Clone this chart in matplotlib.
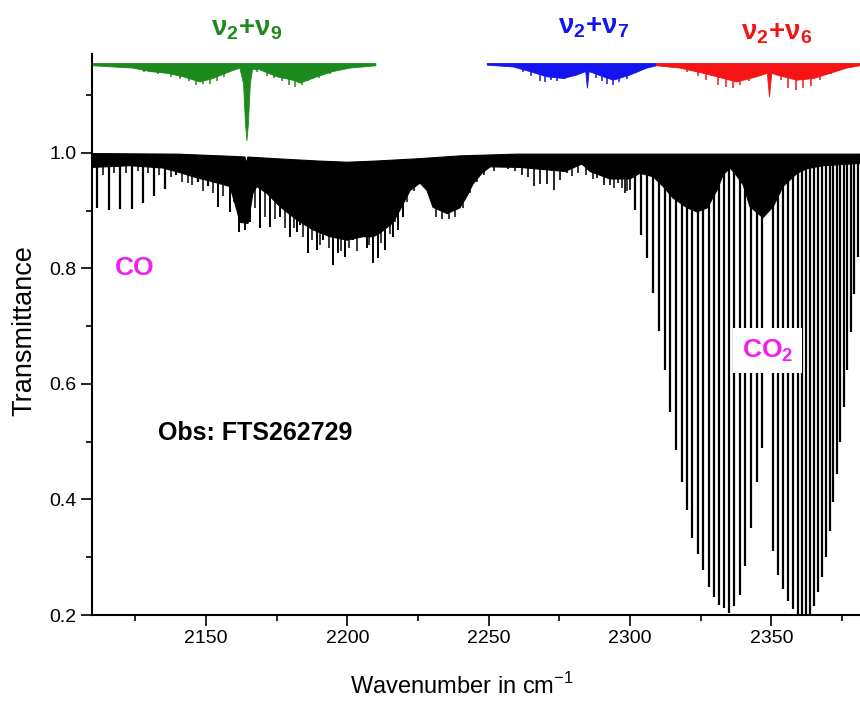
import matplotlib

matplotlib.use("Agg")
import matplotlib.pyplot as plt
import numpy as np

plt.rcParams["font.family"] = ["Liberation Sans", "DejaVu Sans"]

# ---- observed spectrum (black), values read off the figure ----
# upper edge of the dense black band
top_w = [2109.6, 2140.0, 2160.0, 2163.8, 2164.3, 2164.8, 2175.0, 2190.0, 2200.0, 2210.0,
         2225.0, 2240.0, 2260.0, 2381.3]
top_t = [0.999, 0.998, 0.994, 0.993, 0.982, 0.993, 0.990, 0.986, 0.984, 0.986,
         0.990, 0.995, 0.998, 0.998]

# lower edge of the dense (unresolved) black band
env_w = [2109.6, 2123.1, 2134.8, 2140.8, 2146.8, 2152.5, 2158.5, 2161.0, 2162.0, 2164.9,
         2166.6, 2168.0, 2171.6, 2176.2, 2182.2, 2187.8, 2193.9, 2199.9, 2205.5, 2209.1,
         2211.5, 2216.1, 2218.6, 2222.2, 2225.7, 2228.2, 2230.3, 2235.3, 2239.8, 2242.3,
         2244.4, 2247.6, 2250.5, 2261.1, 2277.0, 2283.0, 2285.8, 2292.9, 2300.0, 2303.5,
         2308.1, 2311.7, 2315.2, 2320.2, 2323.7, 2327.3, 2330.8, 2332.9, 2335.4, 2337.8,
         2340.0, 2342.4, 2347.0, 2350.6, 2354.1, 2359.1, 2362.6, 2368.3, 2381.3]
env_t = [0.975, 0.978, 0.974, 0.966, 0.957, 0.950, 0.942, 0.900, 0.880, 0.878,
         0.930, 0.942, 0.930, 0.907, 0.884, 0.867, 0.855, 0.849, 0.855, 0.855,
         0.861, 0.879, 0.901, 0.935, 0.948, 0.935, 0.906, 0.895, 0.905, 0.925,
         0.946, 0.965, 0.976, 0.975, 0.968, 0.981, 0.968, 0.955, 0.955, 0.965,
         0.959, 0.942, 0.922, 0.905, 0.898, 0.905, 0.936, 0.962, 0.974, 0.960,
         0.945, 0.907, 0.888, 0.907, 0.942, 0.965, 0.973, 0.978, 0.982]

# CO fundamental lines
co_w = [2111.5, 2115.6, 2119.7, 2123.8, 2127.7, 2131.6, 2135.6, 2139.4, 2147.2, 2150.6]
co_t = [0.904, 0.901, 0.903, 0.903, 0.913, 0.926, 0.937, 0.962, 0.950, 0.942]

# resolved lines on top of the 2150-2220 absorption
dense_w = [2154.35, 2158.49, 2161.78, 2163.80, 2165.56, 2169.10, 2172.64, 2176.18, 2179.71,
           2182.08, 2183.25, 2186.19, 2189.16, 2191.49, 2195.03, 2196.80, 2199.17, 2202.10,
           2205.08, 2206.84, 2209.18, 2210.95, 2213.32, 2216.26, 2218.03, 2219.79]
dense_t = [0.907, 0.898, 0.864, 0.867, 0.881, 0.870, 0.872, 0.890, 0.855,
           0.864, 0.875, 0.826, 0.832, 0.849, 0.806, 0.826, 0.820, 0.849,
           0.855, 0.835, 0.809, 0.818, 0.832, 0.855, 0.867, 0.890]

# short lines fringing the lower edge of the black band
fine_w = [2113.5, 2117.6, 2121.7, 2125.8, 2129.6, 2133.5, 2137.5, 2141.5, 2143.5, 2145.0,
          2149.0, 2152.5, 2156.0, 2160.0, 2167.5, 2171.0, 2174.5, 2178.0, 2181.0, 2184.5,
          2187.5, 2190.5, 2193.5, 2197.8, 2200.5, 2203.5, 2207.8, 2212.0, 2215.0, 2217.0,
          2221.0, 2223.5, 2229.5, 2231.5, 2233.5, 2236.0, 2238.0, 2241.0, 2243.5, 2246.0,
          2248.5, 2252.0, 2279.5, 2281.5, 2284.5, 2286.8, 2294.3, 2297.0, 2299.0]
fine_t = [0.962, 0.965, 0.966, 0.968, 0.965, 0.962, 0.958, 0.950, 0.948, 0.945,
          0.935, 0.930, 0.925, 0.915, 0.905, 0.890, 0.885, 0.870, 0.870, 0.855,
          0.850, 0.840, 0.835, 0.830, 0.835, 0.830, 0.840, 0.845, 0.860, 0.880,
          0.915, 0.935, 0.920, 0.890, 0.885, 0.885, 0.890, 0.905, 0.930, 0.950,
          0.962, 0.968, 0.960, 0.965, 0.962, 0.955, 0.940, 0.940, 0.935]

# weak lines 2250-2300
mid_w = [2254.6, 2256.9, 2259.3, 2261.7, 2264.0, 2266.1, 2268.1, 2270.5, 2273.1,
         2275.2, 2277.6, 2288.2, 2290.8, 2292.9, 2295.7, 2298.2, 2300.0]
mid_t = [0.979, 0.973, 0.968, 0.962, 0.959, 0.942, 0.947, 0.947, 0.936,
         0.953, 0.965, 0.956, 0.945, 0.945, 0.948, 0.930, 0.936]

# CO2 nu3 band, P and R branches
co2p_w = [2301.8, 2303.9, 2306.1, 2308.2, 2310.2, 2312.3, 2314.2, 2316.3, 2318.3, 2320.0,
          2322.0, 2323.9, 2325.9, 2327.8, 2329.7, 2331.6, 2333.3, 2335.1, 2336.9, 2338.9,
          2340.8, 2342.8, 2344.7, 2346.7]
co2p_t = [0.901, 0.858, 0.818, 0.757, 0.691, 0.624, 0.552, 0.486, 0.431, 0.382,
          0.333, 0.305, 0.278, 0.249, 0.232, 0.217, 0.212, 0.204, 0.215, 0.235,
          0.285, 0.350, 0.430, 0.490]
co2r_w = [2350.6, 2352.3, 2354.1, 2355.9, 2357.6, 2359.2, 2360.8, 2362.2, 2363.7, 2365.1,
          2366.5, 2367.9, 2369.3, 2370.6, 2371.8, 2373.0, 2374.3, 2375.5, 2376.7, 2378.0,
          2379.2, 2380.5]
co2r_t = [0.310, 0.270, 0.245, 0.225, 0.210, 0.198, 0.190, 0.190, 0.195, 0.215,
          0.240, 0.265, 0.300, 0.345, 0.395, 0.445, 0.500, 0.560, 0.625, 0.690,
          0.755, 0.820]

# ---- calculated bands (offset traces) ----
band_top = 1.155
green_w = [2110.1, 2124.2, 2130.2, 2136.2, 2141.9, 2147.9, 2152.5, 2158.5, 2162.0, 2163.3,
           2164.0, 2164.5, 2165.0, 2165.7, 2166.5, 2169.1, 2175.1, 2180.8, 2183.3, 2189.3,
           2194.9, 2200.9, 2210.1]
green_t = [1.151, 1.147, 1.141, 1.138, 1.132, 1.123, 1.129, 1.141, 1.147, 1.120,
           1.050, 1.021, 1.050, 1.120, 1.145, 1.144, 1.132, 1.126, 1.121, 1.132,
           1.141, 1.147, 1.151]
green_sw = [2128.0, 2133.0, 2137.5, 2141.0, 2144.0, 2146.5, 2149.0, 2151.5, 2154.0, 2156.5,
            2168.0, 2171.5, 2174.0, 2177.0, 2179.5, 2181.5, 2184.0, 2186.0, 2190.0, 2194.0]
green_st = [1.140, 1.136, 1.132, 1.128, 1.125, 1.118, 1.119, 1.120, 1.124, 1.132,
            1.140, 1.134, 1.130, 1.124, 1.118, 1.115, 1.117, 1.124, 1.130, 1.137]

blue_w = [2249.5, 2258.7, 2264.6, 2270.5, 2276.4, 2281.1, 2284.3, 2284.9, 2285.5,
          2290.5, 2294.1, 2300.0, 2305.9, 2309.4]
blue_t = [1.152, 1.149, 1.141, 1.132, 1.129, 1.135, 1.141, 1.112, 1.141,
          1.132, 1.126, 1.135, 1.147, 1.151]
blue_sw = [2262.0, 2265.0, 2268.0, 2270.0, 2272.0, 2274.0, 2277.0, 2280.0, 2288.0, 2290.0,
           2292.0, 2294.0, 2296.0, 2299.0, 2302.0]
blue_st = [1.140, 1.133, 1.125, 1.123, 1.126, 1.124, 1.128, 1.133, 1.130, 1.124,
           1.120, 1.118, 1.123, 1.128, 1.138]

red_w = [2309.4, 2317.7, 2325.9, 2333.0, 2337.7, 2344.8, 2348.5, 2349.3, 2350.1,
         2351.9, 2359.0, 2364.9, 2370.8, 2376.6, 2381.3]
red_t = [1.151, 1.147, 1.138, 1.129, 1.123, 1.132, 1.138, 1.097, 1.138,
         1.135, 1.126, 1.129, 1.138, 1.147, 1.151]
red_sw = [2320.0, 2324.0, 2327.0, 2331.0, 2334.0, 2336.5, 2339.0, 2342.0, 2353.5, 2356.0,
          2358.5, 2361.0, 2364.0, 2367.0, 2371.0]
red_st = [1.140, 1.133, 1.126, 1.118, 1.115, 1.112, 1.118, 1.125, 1.126, 1.112,
          1.109, 1.112, 1.116, 1.126, 1.136]

W, H = 860, 701
GREEN, BLUE, RED, MAGENTA = "#1c8a1c", "#1414f0", "#f51414", "#f01ef0"


def _fx(x):
    return x / W


def _fy(y):
    return 1 - y / H


def _band(ax, w, t, color, sw, st):
    """Filled trace hanging from a flat baseline, plus a few spikes."""
    w = np.asarray(w)
    t = np.asarray(t)
    xs = np.r_[w[0], w[-1], w[::-1]]
    ys = np.r_[band_top, band_top, t[::-1]]
    ax.fill(xs, ys, color=color, lw=0.6, zorder=2)
    ax.vlines(sw, st, band_top - 0.01, color=color, lw=1.1, zorder=2)


fig = plt.figure(figsize=(W / 100, H / 100), dpi=100)
ax = fig.add_axes([_fx(91.7), 86 / H, (W - 91.7) / W, 561 / H])

# observed spectrum
ax.fill(np.r_[top_w, env_w[::-1]], np.r_[top_t, env_t[::-1]], color="k", lw=0.8, zorder=3)
ax.vlines(fine_w, fine_t, 0.98, color="k", lw=1.1, zorder=3)
ax.vlines(co_w, co_t, 0.98, color="k", lw=1.6, zorder=3)
ax.vlines(dense_w, dense_t, 0.95, color="k", lw=1.4, zorder=3)
ax.vlines(mid_w, mid_t, 0.98, color="k", lw=1.2, zorder=3)
ax.vlines(co2p_w, co2p_t, 0.99, color="k", lw=1.6, zorder=3)
ax.vlines(co2r_w, co2r_t, 0.99, color="k", lw=1.6, zorder=3)

# calculated bands
_band(ax, green_w, green_t, GREEN, green_sw, green_st)
_band(ax, blue_w, blue_t, BLUE, blue_sw, blue_st)
_band(ax, red_w, red_t, RED, red_sw, red_st)

ax.set_xlim(2109.6, 2381.3)
ax.set_ylim(0.2, 1.1714)
ax.set_xticks([2150, 2200, 2250, 2300, 2350])
ax.set_xticks([2125, 2175, 2225, 2275, 2325, 2375], minor=True)
ax.set_yticks([0.2, 0.4, 0.6, 0.8, 1.0])
ax.set_yticklabels(["0.2", "0.4", "0.6", "0.8", "1.0"])
ax.set_yticks([0.3, 0.5, 0.7, 0.9, 1.1], minor=True)
ax.tick_params(which="major", direction="out", length=8, width=1.2, labelsize=14, pad=3)
ax.tick_params(which="minor", direction="out", length=4.5, width=1.2)
for side in ("top", "right"):
    ax.spines[side].set_visible(False)
for side in ("left", "bottom"):
    ax.spines[side].set_linewidth(1.5)

fig.text(_fx(24), _fy(331), "Transmittance", rotation=90, ha="center", va="center",
         fontsize=19.5)
fig.text(_fx(462), _fy(686), r"Wavenumber in cm$^{\mathregular{-1}}$", ha="center", va="center",
         fontsize=17)

# band labels above the axes
for label, x, y, color in [
    (r"$\mathregular{ν_2{+}ν_9}$", 247, 35, GREEN),
    (r"$\mathregular{ν_2{+}ν_7}$", 594, 33, BLUE),
    (r"$\mathregular{ν_2{+}ν_6}$", 777, 40, RED),
]:
    fig.text(_fx(x), _fy(y), label, color=color, fontsize=20, fontweight="bold",
             ha="center", va="baseline")

ax.text(2124.9, 0.801, "CO", color=MAGENTA, fontsize=19, fontweight="bold",
        ha="center", va="center", zorder=5)
ax.text(2348.6, 0.658, r"CO$\mathregular{_2}$", color=MAGENTA, fontsize=19, fontweight="bold",
        ha="center", va="center", zorder=5,
        bbox=dict(boxstyle="square,pad=0.35", fc="white", ec="none"))
ax.text(2167.3, 0.515, "Obs: FTS262729", color="k", fontsize=18, fontweight="bold",
        ha="center", va="center", zorder=5)

fig.savefig("out.png", dpi=100)
plt.close(fig)
